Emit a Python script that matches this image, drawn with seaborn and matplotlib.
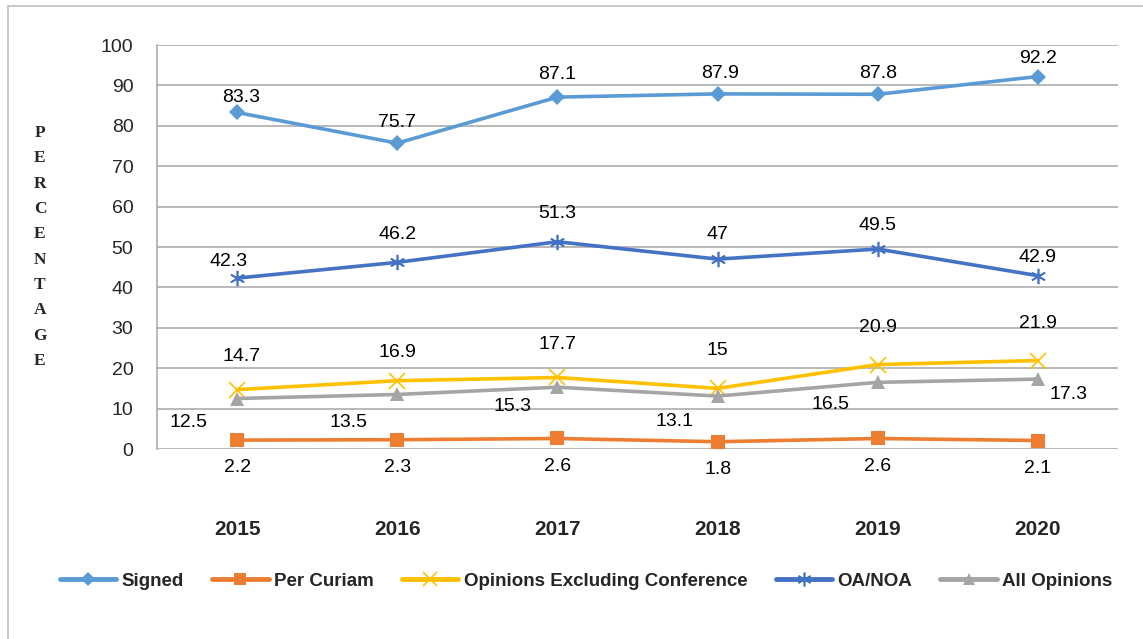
import pandas as pd
import seaborn as sns
import matplotlib.pyplot as plt
from matplotlib.lines import Line2D

# Data
years = ['2015', '2016', '2017', '2018', '2019', '2020']
signed = [83.3, 75.7, 87.1, 87.9, 87.8, 92.2]
per_curiam = [2.2, 2.3, 2.6, 1.8, 2.6, 2.1]
opinions_excl = [14.7, 16.9, 17.7, 15, 20.9, 21.9]
oa_noa = [42.3, 46.2, 51.3, 47, 49.5, 42.9]
all_opinions = [12.5, 13.5, 15.3, 13.1, 16.5, 17.3]

series_names = ['Signed', 'Per Curiam', 'Opinions Excluding Conference', 'OA/NOA', 'All Opinions']
series_values = [signed, per_curiam, opinions_excl, oa_noa, all_opinions]
colors = ['#5B9BD5', '#ED7D31', '#FFC000', '#4472C4', '#A5A5A5']
markers = ['D', 's', 'x', (6, 2, 0), '^']
marker_sizes = [8, 10, 11, 11, 10]

# long-form table for seaborn
df = pd.DataFrame({
    'year': years * len(series_names),
    'value': sum(series_values, []),
    'series': [n for n in series_names for _ in years],
})

sns.set_style('white')
plt.rcParams['font.family'] = ['Liberation Sans', 'DejaVu Sans']

fig = plt.figure(figsize=(11.43, 6.39), dpi=100)
ax = fig.add_axes([157 / 1143, 1 - 449 / 639, (1118 - 157) / 1143, (449 - 45) / 639])

for name, col, mk, ms in zip(series_names, colors, markers, marker_sizes):
    sub = df[df['series'] == name]
    sns.lineplot(data=sub, x='year', y='value', color=col, linewidth=2.6,
                 marker=mk, markersize=ms, markeredgecolor=col,
                 markeredgewidth=1.2 if mk in ('x', (6, 2, 0)) else 0,
                 ax=ax, label=name, sort=False)

# data labels: offsets in points per series
label_offsets = {
    'Signed': [(3, 11), (0, 15), (0, 16), (2, 15), (0, 15), (0, 13)],
    'Per Curiam': [(0, -20)] * 6,
    'Opinions Excluding Conference': [(3, 24), (0, 20), (0, 24), (0, 27), (0, 27), (0, 27)],
    'OA/NOA': [(-6, 12), (0, 20), (0, 20), (0, 18), (0, 17), (0, 13)],
    'All Opinions': [(-35, -17), (-35, -20), (-32, -14), (-31, -18), (-34, -16), (22, -11)],
}
for name, vals in zip(series_names, series_values):
    for i, v in enumerate(vals):
        ax.annotate(f'{v:g}', (i, v), xytext=label_offsets[name][i],
                    textcoords='offset points', ha='center', va='center',
                    fontsize=14, color='black')

ax.set_ylim(0, 100)
ax.set_xlim(-0.5, 5.5)
ax.set_yticks(range(0, 101, 10))
ax.yaxis.grid(True, color='#A6A6A6', linewidth=1.1)
ax.set_axisbelow(True)
for s in ['top', 'right', 'bottom']:
    ax.spines[s].set_visible(False)
ax.spines['left'].set_color('#A6A6A6')
ax.spines['left'].set_linewidth(1.1)
ax.tick_params(axis='y', length=0, pad=17, labelsize=14)
ax.tick_params(axis='x', length=0, pad=51, labelsize=15)
for t in ax.get_xticklabels():
    t.set_fontweight('bold')
ax.set_xlabel('')
ax.set_ylabel('')

# stacked y label
fig.text(40 / 1143, 1 - 247 / 639, '\n'.join('PERCENTAGE'), ha='center', va='center',
         family='Liberation Serif', fontweight='bold', fontsize=12.5, linespacing=1.78)

# legend
handles = [Line2D([0], [0], color=c, lw=3.5, marker=m, markersize=ms * 0.9,
                  markeredgecolor=c, markeredgewidth=1.2 if m in ('x', (6, 2, 0)) else 0)
           for c, m, ms in zip(colors, markers, marker_sizes)]
ax.get_legend().remove()
fig.legend(handles, series_names, loc='center', bbox_to_anchor=(0.513, 1 - 581 / 639),
           ncol=5, frameon=False, handlelength=3.0, columnspacing=1.5, handletextpad=0.3,
           prop={'weight': 'bold', 'size': 13.5})

# chart frame
fig.add_artist(Line2D([7.5 / 1143, 7.5 / 1143], [0, 1 - 6 / 639], color='#BFBFBF', lw=1.2,
                      transform=fig.transFigure))
fig.add_artist(Line2D([7.5 / 1143, 1], [1 - 6 / 639, 1 - 6 / 639], color='#BFBFBF', lw=1.2,
                      transform=fig.transFigure))

fig.savefig('out.png', dpi=100)
